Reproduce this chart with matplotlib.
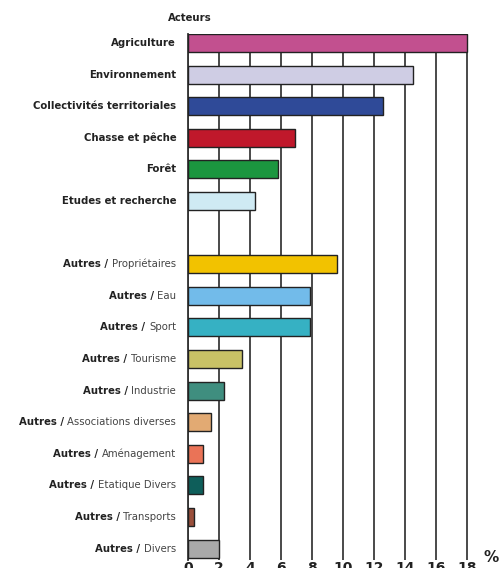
import matplotlib
matplotlib.use("Agg")
import matplotlib.pyplot as plt

# categories (None = blank row between the two groups)
groups = ["Agriculture", "Environnement", "Collectivités territoriales", "Chasse et pêche",
          "Forêt", "Etudes et recherche", None,
          "Autres", "Autres", "Autres", "Autres", "Autres", "Autres", "Autres", "Autres",
          "Autres", "Autres"]
subs = [None, None, None, None, None, None, None,
        "Propriétaires", "Eau", "Sport", "Tourisme", "Industrie", "Associations diverses",
        "Aménagement", "Etatique Divers", "Transports", "Divers"]
values = [18.0, 14.5, 12.6, 6.9, 5.8, 4.3, None,
          9.6, 7.9, 7.9, 3.5, 2.3, 1.5, 1.0, 1.0, 0.4, 2.0]
colors = ["#c2508f", "#cfcde4", "#2f4a98", "#c0182b", "#1b963f", "#cfeaf3", None,
          "#f2c200", "#72bbea", "#36b1c3", "#c9c266", "#3f8e7f", "#e2aa73",
          "#ea7357", "#0e5e5a", "#9a4f3b", "#a9a9a9"]
xticks = [0, 2, 4, 6, 8, 10, 12, 14, 16, 18]

W, H = 504, 568
fig = plt.figure(figsize=(W / 100, H / 100), dpi=100)
ax = fig.add_axes([188 / W, 1 - 560 / H, 282 / W, (560 - 34) / H])

bh = 0.57
for i, (v, c) in enumerate(zip(values, colors)):
    if v is None:
        continue
    ax.barh(i, v, height=bh, color=c, edgecolor="#222222", linewidth=1.0, zorder=3)

ax.set_xlim(0, 18.2)
ax.set_ylim(16.36, -bh / 2)
ax.set_xticks(xticks)
ax.set_xticklabels([str(t) for t in xticks], fontsize=10, fontweight="bold", color="#222222")
ax.tick_params(axis="x", length=0, pad=1)
ax.set_yticks([])
ax.xaxis.grid(True, color="#3a3a3a", linewidth=1.3, zorder=0)
ax.set_axisbelow(True)
for s in ["top", "right", "bottom"]:
    ax.spines[s].set_visible(False)
ax.spines["left"].set_color("#333333")
ax.spines["left"].set_linewidth(1.3)

# row labels: bold group, regular sub-label after "Autres /"
fs = 7.3
for i, (g, s) in enumerate(zip(groups, subs)):
    if g is None:
        continue
    if s is None:
        ax.annotate(g, xy=(0, i), xycoords=("axes fraction", "data"), xytext=(-8.5, 0),
                    textcoords="offset points", ha="right", va="center",
                    fontsize=fs, fontweight="bold", color="#222222")
    else:
        t = ax.annotate(s, xy=(0, i), xycoords=("axes fraction", "data"), xytext=(-8.5, 0),
                        textcoords="offset points", ha="right", va="center",
                        fontsize=fs, color="#444444")
        ax.annotate(g + " / ", xy=(0, 0.5), xycoords=t, ha="right", va="center",
                    fontsize=fs, fontweight="bold", color="#222222")

fig.text(190 / W, 1 - 18 / H, "Acteurs", ha="center", va="center",
         fontsize=fs, fontweight="bold", color="#222222")
fig.text(491 / W, 1 - 558 / H, "%", ha="center", va="center",
         fontsize=11, fontweight="bold", color="#222222")

fig.savefig("out.png", dpi=100)
